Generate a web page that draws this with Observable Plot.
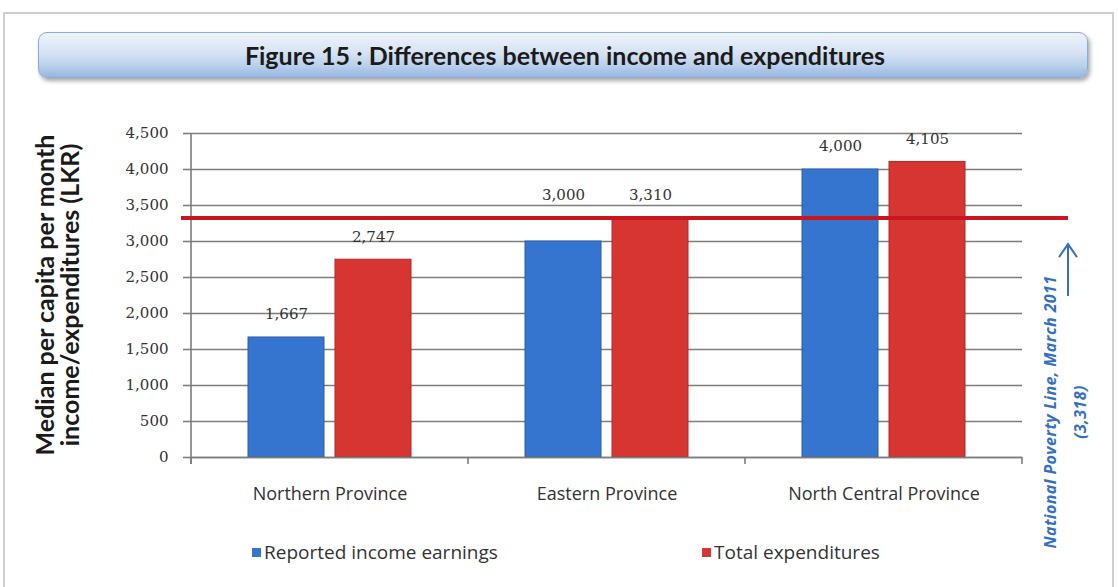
<!DOCTYPE html>
<html><head><meta charset="utf-8">
<script src="https://cdn.jsdelivr.net/npm/d3@7"></script>
<script src="https://cdn.jsdelivr.net/npm/@observablehq/plot@0.6"></script>
<style>
html,body{margin:0;padding:0;background:#fff}
body{width:1118px;height:587px;overflow:hidden;position:relative;font-family:Lato,"Open Sans",sans-serif}
#frame{position:absolute;left:3px;top:12px;width:1111px;height:600px;border:2px solid #cfcfcf;box-sizing:border-box}
#banner{position:absolute;left:38px;top:32px;width:1050px;height:46px;box-sizing:border-box;border-radius:9px;
 background:linear-gradient(to bottom,#eef3fb 0%,#d6e3f4 45%,#b9cfeb 75%,#96b6e0 100%);
 border:1px solid #8eabd6;box-shadow:2px 3px 4px rgba(0,0,0,0.35);
 display:flex;align-items:center;justify-content:center;font:bold 25px Lato,sans-serif;color:#1b1b1b;padding-left:4px}
#chart{position:absolute;left:0;top:82px}
.item{position:absolute;top:541px;height:22px;display:flex;align-items:center;font:19px "Open Sans",sans-serif;color:#333}
.sw{width:9px;height:9px;margin-right:3px}
</style></head>
<body>
<div id="frame"></div>
<div id="banner"></div>
<div id="chart"></div>
<div id="legend"></div>
<script>
const title = "Figure 15 : Differences between income and expenditures";
const yTitle = ["Median per capita per month", "income/expenditures (LKR)"];
const provinces = ["Northern Province", "Eastern Province", "North Central Province"];
const seriesNames = ["Reported income earnings", "Total expenditures"];
const income = [1667, 3000, 4000];
const expenditure = [2747, 3310, 4105];
const povertyLine = 3318;
const povertyNote = ["National Poverty Line, March 2011", "(3,318)"];
const yTicks = [0, 500, 1000, 1500, 2000, 2500, 3000, 3500, 4000, 4500];
const colors = ["#3675cf", "#d63532"];
const strokes = ["#2a5ea9", "#ad2a27"];

document.getElementById("banner").textContent = title;

const rows = provinces.flatMap((p, i) => [
  {province: p, series: seriesNames[0], value: income[i]},
  {province: p, series: seriesNames[1], value: expenditure[i]}
]);

const W = 1112, H = 483;
const fmt = d3.format(",");
// labels that would collide with the poverty line are lifted above it
const labelY = d => (d.value < povertyLine && povertyLine - d.value < 400) ? povertyLine : d.value;

const chart = Plot.plot({
  width: W, height: H,
  marginLeft: 190, marginRight: W - 1022, marginTop: 51, marginBottom: 108,
  style: {background: "transparent", overflow: "visible"},
  fx: {domain: provinces, padding: 0, label: null},
  x: {domain: seriesNames, paddingInner: 0.125, paddingOuter: 0.637, axis: null},
  y: {domain: [0, 4500], label: null},
  color: {domain: seriesNames, range: colors},
  marks: [
    Plot.gridY(yTicks, {stroke: "#7d7d7d", strokeOpacity: 1, strokeWidth: 1.6}),
    Plot.axisY(yTicks, {anchor: "left", tickSize: 8, tickPadding: 15, tickFormat: fmt, label: null,
      stroke: "#7d7d7d", strokeWidth: 1.6, fill: "#333", fontSize: 15, fontFamily: "DejaVu Serif"}),
    Plot.barY(rows, {fx: "province", x: "series", y: "value", fill: "series",
      stroke: d => strokes[seriesNames.indexOf(d.series)], strokeWidth: 1}),
    Plot.ruleY([0], {stroke: "#7d7d7d", strokeWidth: 1.6}),
    Plot.text(rows, {fx: "province", x: "series", y: labelY, text: d => fmt(d.value), dy: -23,
      fill: "#333", fontSize: 15, fontFamily: "DejaVu Serif"}),
    Plot.axisFx({anchor: "bottom", tickSize: 0, tickPadding: 30, label: null, fontSize: 18,
      fontFamily: "Open Sans", fill: "#333"})
  ]
});
document.getElementById("chart").appendChild(chart);

// chart decorations drawn with the chart's own scales
const svg = d3.select(chart.tagName.toLowerCase() === "svg" ? chart : chart.querySelector("svg"));
const y = chart.scale("y"), fx = chart.scale("fx");
const y0 = y.apply(0), yTop = y.apply(4500), yPov = y.apply(povertyLine);
const x0 = fx.apply(provinces[0]);
const xEnd = fx.apply(provinces[provinces.length - 1]) + fx.bandwidth;
// vertical axis line
svg.append("line").attr("x1", x0).attr("x2", x0).attr("y1", yTop).attr("y2", y0 + 7)
  .attr("stroke", "#7d7d7d").attr("stroke-width", 1.6);
// category boundary ticks
provinces.concat([null]).forEach((p, i) => {
  const xx = p ? fx.apply(p) : xEnd;
  svg.append("line").attr("x1", xx).attr("x2", xx).attr("y1", y0).attr("y2", y0 + 7)
    .attr("stroke", "#7d7d7d").attr("stroke-width", 1.6);
});
// national poverty line (one continuous rule across all groups)
svg.append("line").attr("x1", x0 - 10).attr("x2", xEnd + 46).attr("y1", yPov).attr("y2", yPov)
  .attr("stroke", "#c8161e").attr("stroke-width", 4);
// y title
const gT = svg.append("g").attr("transform", `translate(0,${(yTop + y0) / 2})`);
yTitle.forEach((t, i) => {
  gT.append("text").attr("transform", `translate(${48 + i * 25},0) rotate(-90)`)
    .attr("text-anchor", "middle").attr("dominant-baseline", "middle")
    .attr("font-family", "Lato").attr("font-weight", "bold").attr("font-size", 25)
    .attr("fill", "#1a1a1a").text(t);
});
// poverty line annotation
const ax = xEnd + 46;
const ac = "#3470c2";
const tipY = yPov + 26, baseY = tipY + 52;
svg.append("line").attr("x1", ax).attr("x2", ax).attr("y1", tipY).attr("y2", baseY)
  .attr("stroke", ac).attr("stroke-width", 2);
svg.append("path").attr("d", `M${ax - 9},${tipY + 13}L${ax},${tipY}L${ax + 9},${tipY + 13}`)
  .attr("fill", "none").attr("stroke", ac).attr("stroke-width", 2);
povertyNote.forEach((t, i) => {
  svg.append("text").attr("transform", `translate(${ax - 16 + i * 30},${y0 - 45}) rotate(-90)`)
    .attr("text-anchor", "middle").attr("dominant-baseline", "middle")
    .attr("font-family", "Open Sans").attr("font-weight", "bold").attr("font-style", "italic")
    .attr("font-size", 16).attr("letter-spacing", 0.4).attr("fill", ac).text(t);
});

// legend
const legend = document.getElementById("legend");
const legendX = [252, 702];
seriesNames.forEach((s, i) => {
  const it = document.createElement("div");
  it.className = "item";
  it.style.left = legendX[i] + "px";
  it.innerHTML = `<span class="sw" style="background:${colors[i]}"></span><span>${s}</span>`;
  legend.appendChild(it);
});
</script>
</body></html>
